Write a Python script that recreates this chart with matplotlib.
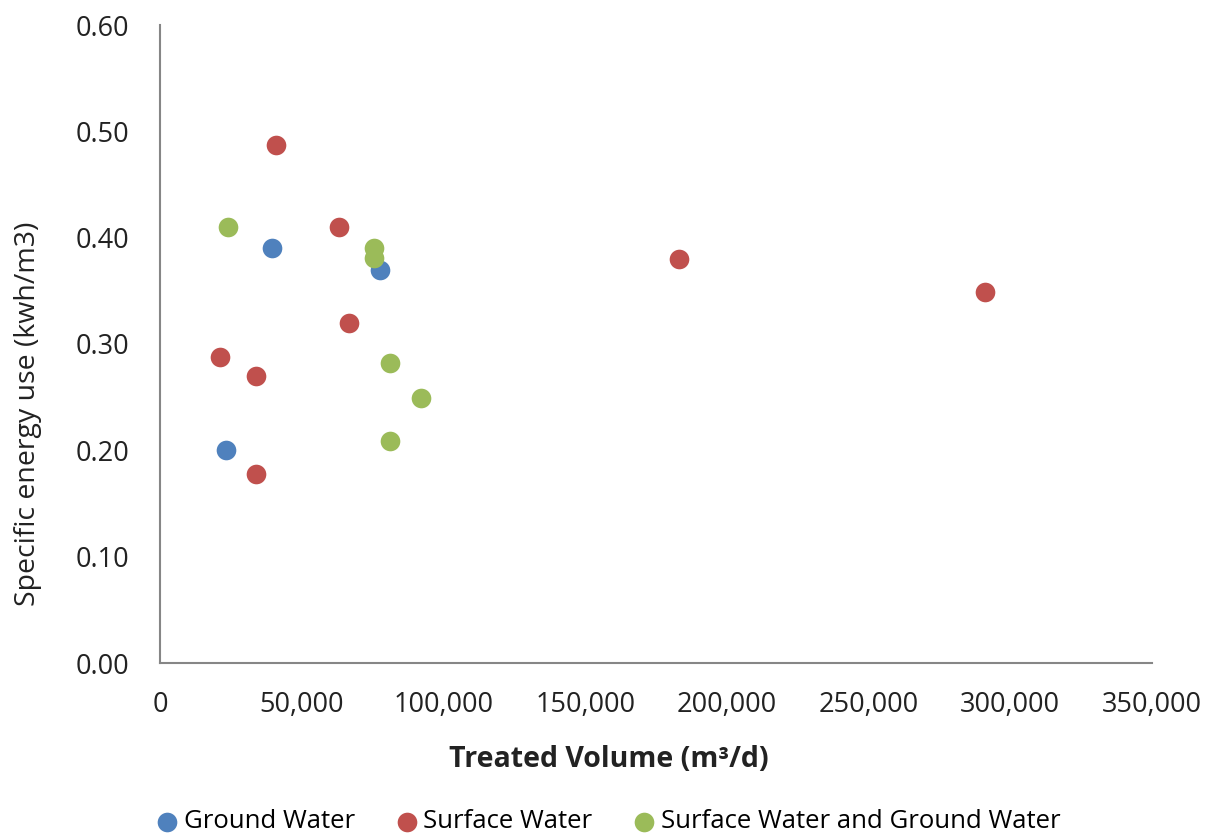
import matplotlib.pyplot as plt
from matplotlib.ticker import FuncFormatter

plt.rcParams['font.family'] = ['Open Sans', 'DejaVu Sans']

# Treated volume (m3/d) and specific energy use (kWh/m3)
ground_x = [23300, 39500, 77600]
ground_y = [0.20, 0.39, 0.37]

surface_x = [40900, 63200, 66700, 21200, 33900, 33900, 183100, 291100]
surface_y = [0.487, 0.41, 0.32, 0.288, 0.27, 0.178, 0.38, 0.349]

mixed_x = [24000, 75500, 75500, 81200, 92100, 81200]
mixed_y = [0.41, 0.39, 0.381, 0.282, 0.249, 0.209]

series_labels = ['Ground Water', 'Surface Water', 'Surface Water and Ground Water']
colors = ['#4F81BD', '#C0504D', '#9BBB59']


def main():
    fig = plt.figure(figsize=(12.11, 8.34), dpi=100)
    ax = fig.add_axes([160 / 1211, 1 - 663 / 834, 992 / 1211, 638 / 834])

    data = [(ground_x, ground_y), (surface_x, surface_y), (mixed_x, mixed_y)]
    for (xs, ys), lab, col in zip(data, series_labels, colors):
        ax.scatter(xs, ys, s=200, color=col, label=lab, zorder=3, linewidths=0)

    ax.set_xlim(0, 350000)
    ax.set_ylim(0, 0.6)
    ax.set_xticks(range(0, 350001, 50000))
    ax.set_yticks([i / 10 for i in range(7)])
    ax.xaxis.set_major_formatter(FuncFormatter(lambda v, p: f"{int(v):,}"))
    ax.yaxis.set_major_formatter(FuncFormatter(lambda v, p: f"{v:.2f}"))
    ax.tick_params(length=0, labelsize=19.5, colors='#222222')
    ax.tick_params(axis='y', pad=22)
    ax.tick_params(axis='x', pad=20)

    for side in ['top', 'right']:
        ax.spines[side].set_visible(False)
    for side in ['left', 'bottom']:
        ax.spines[side].set_color('#868686')
        ax.spines[side].set_linewidth(1.5)

    ax.set_xlabel("Treated Volume (m³/d)", fontsize=20.5, fontweight='bold',
                  color='#222222')
    ax.xaxis.set_label_coords(0.452, -0.129)
    ax.set_ylabel("Specific energy use (kwh/m3)", fontsize=20.5,
                  color='#222222', va='center')
    ax.yaxis.set_label_coords(-0.133, 0.39)

    fig.legend(loc='center', bbox_to_anchor=(608 / 1211, 12 / 834),
               ncol=3, frameon=False, fontsize=18.5, handletextpad=0.2,
               handlelength=0.9, columnspacing=1.55, borderaxespad=0)

    fig.savefig('out.png', dpi=100)


if __name__ == "__main__":
    main()
